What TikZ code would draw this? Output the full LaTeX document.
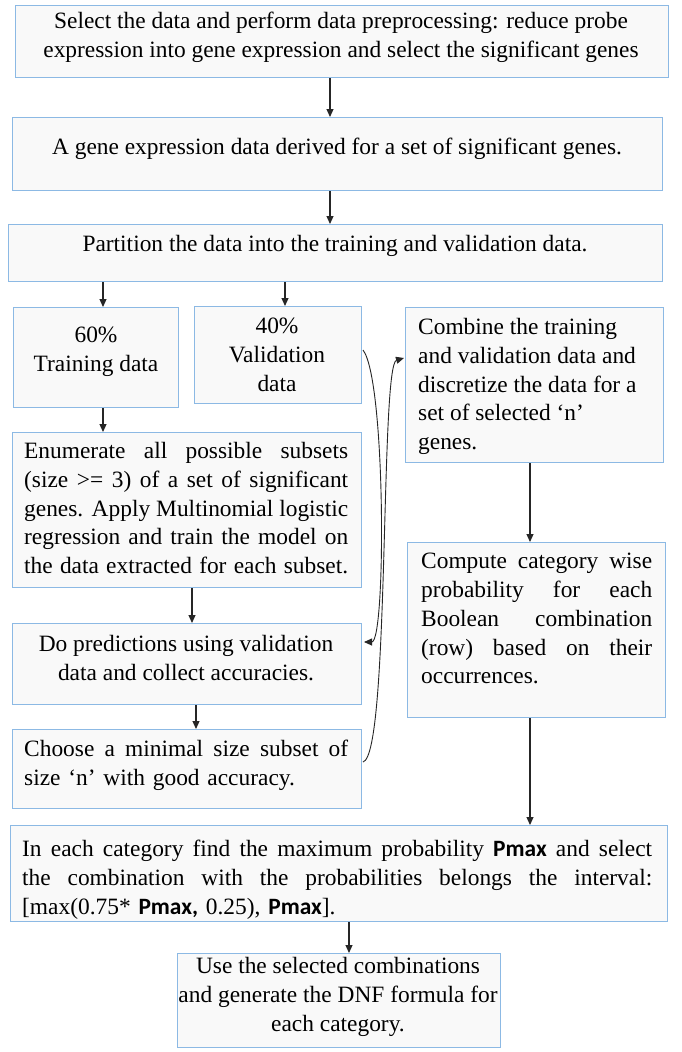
\documentclass[tikz,border=0pt]{standalone}
\usepackage{fontspec}
\setmainfont{Liberation Serif}
\newfontfamily\tnrfont{Liberation Serif}
\newfontfamily\calfont{Carlito}
\usetikzlibrary{arrows.meta,calc}
\definecolor{boxblue}{RGB}{140,185,228}
\definecolor{boxfill}{RGB}{249,249,249}
\newcommand\jline[1]{{\spaceskip=0pt\xspaceskip=0pt\makebox[\hsize][s]{#1}}}
\newcommand\pmx[1]{{\calfont\bfseries #1}}
\tikzset{
  box/.style={draw=boxblue, fill=boxfill, line width=1pt, inner sep=0pt, anchor=north west},
  txt/.style={font=\tnrfont\fontsize{23.4}{28.8}\selectfont, inner sep=0pt},
  arr/.style={-{Triangle[length=8pt,width=7pt]}, line width=1.1pt, black!85},
}
\begin{document}
\begin{tikzpicture}[x=1pt,y=-1pt]
\useasboundingbox (0,0) rectangle (681,1052);
\fill[white] (0,0) rectangle (681,1052);
% boxes
\node[box, minimum width=653, minimum height=72] (b1) at (15,5) {};
\node[box, minimum width=650, minimum height=73] (b2) at (12,117) {};
\node[box, minimum width=654, minimum height=57] (b3) at (8,224) {};
\node[box, minimum width=165, minimum height=100] (b60) at (13,307) {};
\node[box, minimum width=167, minimum height=97] (b40) at (194,306) {};
\node[box, minimum width=258, minimum height=155] (bcomb) at (405,307) {};
\node[box, minimum width=349, minimum height=155] (benum) at (12,432) {};
\node[box, minimum width=258, minimum height=175] (bcomp) at (407,542) {};
\node[box, minimum width=349, minimum height=81] (bdo) at (12,623) {};
\node[box, minimum width=349, minimum height=79] (bchoose) at (12,729) {};
\node[box, minimum width=657, minimum height=96] (bfinal) at (10,825) {};
\node[box, minimum width=323, minimum height=94] (buse) at (177,953) {};
% texts
\node[txt, anchor=north, align=center] (t1) at (341,12) {Select the data and perform data preprocessing: reduce probe\\expression into gene expression and select the significant genes};
\node[txt, anchor=north, align=center] (t2) at (337,138) {A gene expression data derived for a set of significant genes.};
\node[txt, anchor=north, align=center] (t3) at (335,235) {Partition the data into the training and validation data.};
\node[txt, anchor=north, align=center] (t60) at (96,327) {60\%\\Training data};
\node[txt, anchor=north, align=center] (t40) at (277,318) {40\%\\Validation\\data};
\node[txt, anchor=north west, align=left] (tcomb) at (418,318) {Combine the training\\and validation data and\\discretize the data for a\\set of selected ‘n’\\genes.};
\node[txt, anchor=north west, text width=324, align=left] (tenum) at (24,442) {\jline{Enumerate all possible subsets}\\\jline{(size >= 3) of a set of significant}\\\jline{genes. Apply Multinomial logistic}\\\jline{regression and train the model on}\\\jline{the data extracted for each subset.}};
\node[txt, anchor=north west, text width=231, align=left] (tcomp) at (421,553) {\jline{Compute category wise}\\\jline{probability for each}\\\jline{Boolean combination}\\\jline{(row) based on their}\\occurrences.};
\node[txt, anchor=north, align=center] (tdo) at (186,635) {Do predictions using validation\\data and collect accuracies.};
\node[txt, anchor=north west, text width=324, align=left] (tchoose) at (24,740) {\jline{Choose a minimal size subset of}\\size ‘n’ with good accuracy.};
\node[txt, anchor=north west, text width=630, align=left] (tfinal) at (22,840) {\jline{In each category find the maximum probability \pmx{Pmax} and select}\\\jline{the combination with the probabilities belongs the interval:}\\{[}max(0.75* \pmx{Pmax,} 0.25), \pmx{Pmax}].};
\node[txt, anchor=north, align=center] (tuse) at (338,957) {Use the selected combinations\\and generate the DNF formula for\\each category.};
% x positions for vertical arrows
\coordinate (xa) at (330,0);
\coordinate (xb) at (103,0);
\coordinate (xc) at (285,0);
\coordinate (xd) at (192,0);
\coordinate (xe) at (196,0);
\coordinate (xf) at (530,0);
\coordinate (xg) at (349,0);
\draw[arr] (xa |- b1.south) -- (xa |- b2.north);
\draw[arr] (xa |- b2.south) -- (xa |- b3.north);
\draw[arr] (xb |- b3.south) -- (xb |- b60.north);
\draw[arr] (xc |- b3.south) -- (xc |- b40.north);
\draw[arr] (xb |- b60.south) -- (xb |- benum.north);
\draw[arr] (xd |- benum.south) -- (xd |- bdo.north);
\draw[arr] (xe |- bdo.south) -- (xe |- bchoose.north);
\draw[arr] (xf |- bcomb.south) -- (xf |- bcomp.north);
\draw[arr] (xf |- bcomp.south) -- (xf |- bfinal.north);
\draw[arr] (xg |- bfinal.south) -- (xg |- buse.north);
% curved connectors
\coordinate (c1s) at ($(b40.north east)+(1,44)$);
\coordinate (c1e) at ($(bdo.north east)+(2,19)$);
\draw[arr, line width=0.9pt] (c1s) .. controls (386,380) and (386,642) .. (c1e);
\coordinate (c2s) at ($(bchoose.north east)+(1,33)$);
\coordinate (c2e) at ($(bcomb.north west)+(-1,51)$);
\draw[arr, line width=0.9pt] (c2s) .. controls (390,755) and (380,365) .. (c2e);
\end{tikzpicture}
\end{document}
